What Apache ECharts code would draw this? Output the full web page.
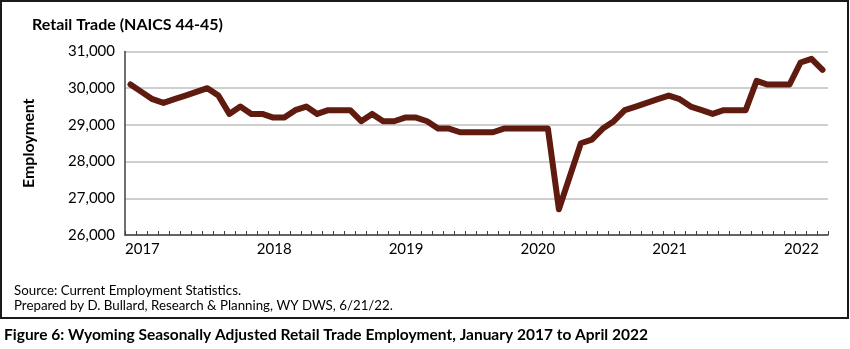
<!DOCTYPE html>
<html>
<head>
<meta charset="utf-8">
<script src="https://cdn.jsdelivr.net/npm/echarts@6/dist/echarts.min.js"></script>
<style>
html,body{margin:0;padding:0;background:#fff;}
#chart{width:850px;height:349px;}
</style>
</head>
<body>
<div id="chart"></div>
<script>
// Month names for the category axis (Jan 2017 .. Apr 2022)
const monthNames = ['Jan','Feb','Mar','Apr','May','Jun','Jul','Aug','Sep','Oct','Nov','Dec'];
const years = [2017, 2018, 2019, 2020, 2021, 2022];
const yearLabels = ['2017', '2018', '2019', '2020', '2021', '2022'];

// Employment values, by year
const emp2017 = [30100, 29900, 29700, 29600, 29700, 29800, 29900, 30000, 29800, 29300, 29500, 29300];
const emp2018 = [29300, 29200, 29200, 29400, 29500, 29300, 29400, 29400, 29400, 29100, 29300, 29100];
const emp2019 = [29100, 29200, 29200, 29100, 28900, 28900, 28800, 28800, 28800, 28800, 28900, 28900];
const emp2020 = [28900, 28900, 28900, 26700, 27600, 28500, 28600, 28900, 29100, 29400, 29500, 29600];
const emp2021 = [29700, 29800, 29700, 29500, 29400, 29300, 29400, 29400, 29400, 30200, 30100, 30100];
const emp2022 = [30100, 30700, 30800, 30500];

const yTicks = { min: 26000, max: 31000, step: 1000 };

const byYear = [emp2017, emp2018, emp2019, emp2020, emp2021, emp2022];
const employment = [].concat.apply([], byYear);
const categories = [];
years.forEach(function (y, yi) {
  for (let m = 0; m < byYear[yi].length; m++) categories.push(monthNames[m] + ' ' + y);
});

const FONT = 'Lato';
const chart = echarts.init(document.getElementById('chart'), null, { renderer: 'canvas' });
chart.setOption({
  animation: false,
  backgroundColor: '#ffffff',
  textStyle: { fontFamily: FONT },
  title: {
    text: 'Retail Trade (NAICS 44-45)',
    left: 27, top: 12,
    textStyle: { fontFamily: FONT, fontSize: 16, fontWeight: 'bold', color: '#000' }
  },
  grid: { left: 125, right: 22, top: 51.5, bottom: 114, containLabel: false },
  xAxis: [
    {
      type: 'category',
      data: categories,
      boundaryGap: true,
      position: 'bottom',
      axisLine: { show: true, lineStyle: { color: '#404040', width: 1.5 } },
      axisTick: { show: true, interval: 0, inside: true, length: 4, lineStyle: { color: '#404040', width: 1 } },
      axisLabel: { show: false },
      splitLine: { show: false }
    },
    {
      type: 'value',
      position: 'bottom',
      min: 0, max: categories.length, interval: 12,
      axisLine: { show: false },
      axisTick: { show: false },
      splitLine: { show: false },
      axisLabel: {
        show: true, margin: 7, align: 'left',
        fontFamily: FONT, fontSize: 15, color: '#000',
        formatter: function (v) {
          const k = Math.round(v / 12);
          return (v % 12 === 0 && k < yearLabels.length && v < categories.length) ? yearLabels[k] : '';
        }
      }
    }
  ],
  yAxis: {
    type: 'value',
    min: yTicks.min, max: yTicks.max, interval: yTicks.step,
    name: 'Employment',
    nameLocation: 'middle',
    nameGap: 88,
    nameRotate: 90,
    nameTextStyle: { fontFamily: FONT, fontSize: 16, fontWeight: 'bold', color: '#000' },
    axisLine: { show: true, lineStyle: { color: '#404040', width: 1.5 } },
    axisTick: { show: false },
    axisLabel: {
      margin: 10, fontFamily: FONT, fontSize: 15, color: '#000',
      formatter: function (v) { return v.toLocaleString('en-US'); }
    },
    splitLine: { show: true, lineStyle: { color: '#BFBFBF', width: 1.5 } }
  },
  series: [{
    type: 'line',
    xAxisIndex: 0,
    data: employment,
    symbol: 'none',
    lineStyle: { color: '#5F1B0F', width: 6, join: 'round', cap: 'round' },
    itemStyle: { color: '#5F1B0F' }
  }],
  graphic: [
    {
      type: 'rect', z: -1,
      shape: { x: 1, y: 1, width: 847, height: 317 },
      style: { fill: 'none', stroke: '#1a1a1a', lineWidth: 2 }
    },
    {
      type: 'text', left: 14, top: 284,
      style: { text: 'Source: Current Employment Statistics.', font: '13.3px ' + FONT, fill: '#000' }
    },
    {
      type: 'text', left: 14, top: 299,
      style: { text: 'Prepared by D. Bullard, Research & Planning, WY DWS, 6/21/22.', font: '13.3px ' + FONT, fill: '#000' }
    },
    {
      type: 'text', left: 4, top: 327,
      style: { text: 'Figure 6: Wyoming Seasonally Adjusted Retail Trade Employment, January 2017 to April 2022', font: 'bold 15.5px ' + FONT, fill: '#000' }
    }
  ]
});
</script>
</body>
</html>
